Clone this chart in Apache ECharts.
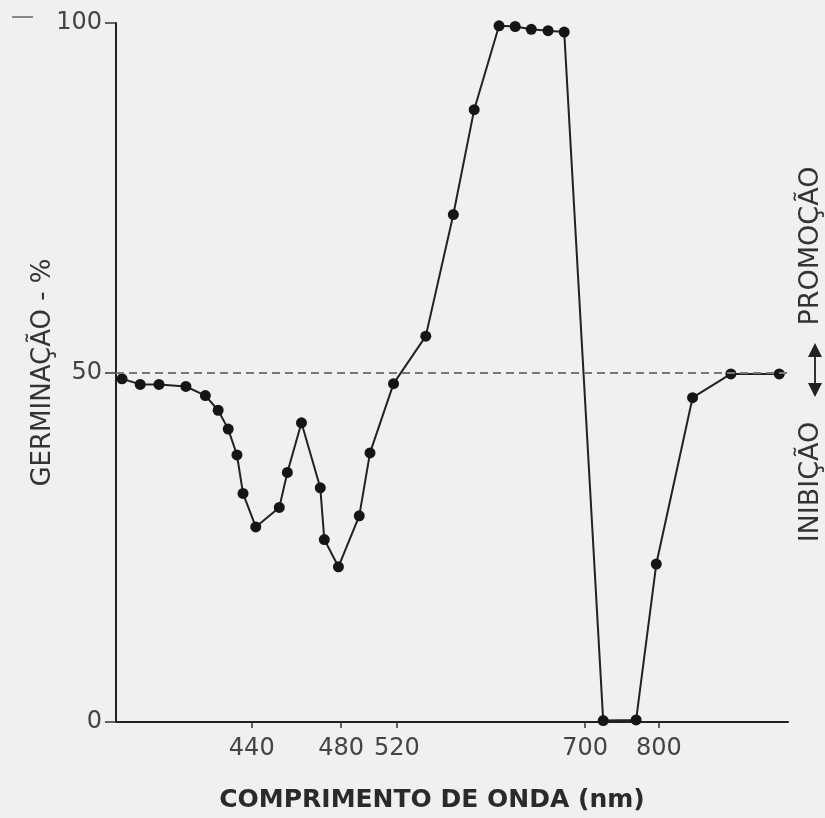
<!DOCTYPE html>
<html>
<head>
<meta charset="utf-8">
<script src="https://cdn.jsdelivr.net/npm/echarts@6/dist/echarts.min.js"></script>
<style>
html,body{margin:0;padding:0;background:#f0f0f0;}
#chart{width:825px;height:818px;}
</style>
</head>
<body>
<div id="chart"></div>
<script>
// Position of each point along the (non-linear) wavelength axis, 0..100 axis units
const xPos = [0.9, 3.6, 6.4, 10.4, 13.3, 15.2, 16.7, 18.0, 18.9, 20.8, 24.3, 25.5, 27.6, 30.4, 31.0, 33.1, 36.2, 37.8, 41.3, 46.1, 50.2, 53.3, 57.0, 59.4, 61.8, 64.3, 66.7, 72.5, 77.4, 80.4, 85.8, 91.5, 98.7];
// Germination (%)
const germination = [49.1, 48.3, 48.3, 48.0, 46.7, 44.6, 41.9, 38.2, 32.7, 27.9, 30.7, 35.7, 42.8, 33.5, 26.1, 22.2, 29.5, 38.5, 48.4, 55.2, 72.6, 87.6, 99.6, 99.5, 99.1, 98.9, 98.7, 0.2, 0.3, 22.6, 46.4, 49.8, 49.8];
// Wavelength tick labels (nm) and their positions on the axis
const tickLabels = ['440', '480', '520', '700', '800'];
const tickPos = [20.2, 33.5, 41.8, 69.8, 80.8];
const referenceLevel = 50;

const data = xPos.map((x, i) => [x, germination[i]]);
const font = 'DejaVu Sans';

const chart = echarts.init(document.getElementById('chart'));
chart.setOption({
  backgroundColor: '#f0f0f0',
  animation: false,
  grid: { left: 116, right: 37, top: 23, bottom: 95 },
  xAxis: {
    type: 'value', min: 0, max: 100,
    name: 'COMPRIMENTO DE ONDA (nm)',
    nameLocation: 'middle', nameGap: 66, nameMoveOverlap: false,
    nameTextStyle: { fontFamily: font, fontWeight: 'bold', fontSize: 25, color: '#2a2a2a', padding: [0, 40, 0, 0] },
    axisLine: { lineStyle: { color: '#222', width: 2 } },
    axisTick: { show: true, length: 6, lineStyle: { color: '#333', width: 1.5 }, customValues: tickPos },
    axisLabel: {
      fontFamily: font, fontSize: 24, color: '#444', margin: 15,
      customValues: tickPos,
      formatter: function (v) {
        for (let i = 0; i < tickPos.length; i++) if (Math.abs(tickPos[i] - v) < 1e-6) return tickLabels[i];
        return '';
      }
    },
    splitLine: { show: false }
  },
  yAxis: {
    type: 'value', min: 0, max: 100, interval: 50,
    name: 'GERMINAÇÃO - %',
    nameLocation: 'middle', nameGap: 60, nameMoveOverlap: false,
    nameTextStyle: { fontFamily: font, fontSize: 26, color: '#333' },
    axisLine: { show: true, lineStyle: { color: '#222', width: 2 } },
    axisTick: { show: true, length: 11, lineStyle: { color: '#333', width: 1.5 } },
    axisLabel: { fontFamily: font, fontSize: 24, color: '#444', margin: 14 },
    splitLine: { show: false }
  },
  series: [{
    type: 'line',
    data: data,
    symbol: 'circle', symbolSize: 11,
    itemStyle: { color: '#151515' },
    lineStyle: { color: '#222', width: 2 },
    markLine: {
      silent: true, symbol: 'none', label: { show: false },
      lineStyle: { color: '#777', type: [8, 5], width: 2 },
      data: [{ yAxis: referenceLevel }]
    },
    z: 3
  }],
  graphic: [
    { type: 'text', x: 811, y: 246, rotation: Math.PI / 2,
      style: { text: 'PROMOÇÃO', font: '27px "DejaVu Sans"', fill: '#333', align: 'center', verticalAlign: 'middle' } },
    { type: 'text', x: 811, y: 482, rotation: Math.PI / 2,
      style: { text: 'INIBIÇÃO', font: '27px "DejaVu Sans"', fill: '#333', align: 'center', verticalAlign: 'middle' } },
    { type: 'line', shape: { x1: 815, y1: 352, x2: 815, y2: 388 }, style: { stroke: '#333', lineWidth: 2 } },
    { type: 'polygon', shape: { points: [[815, 343], [808, 357], [822, 357]] }, style: { fill: '#222' } },
    { type: 'polygon', shape: { points: [[815, 397], [808, 383], [822, 383]] }, style: { fill: '#222' } },
    { type: 'line', shape: { x1: 12, y1: 17, x2: 33, y2: 17 }, style: { stroke: '#888', lineWidth: 2 } }
  ]
});
</script>
</body>
</html>
